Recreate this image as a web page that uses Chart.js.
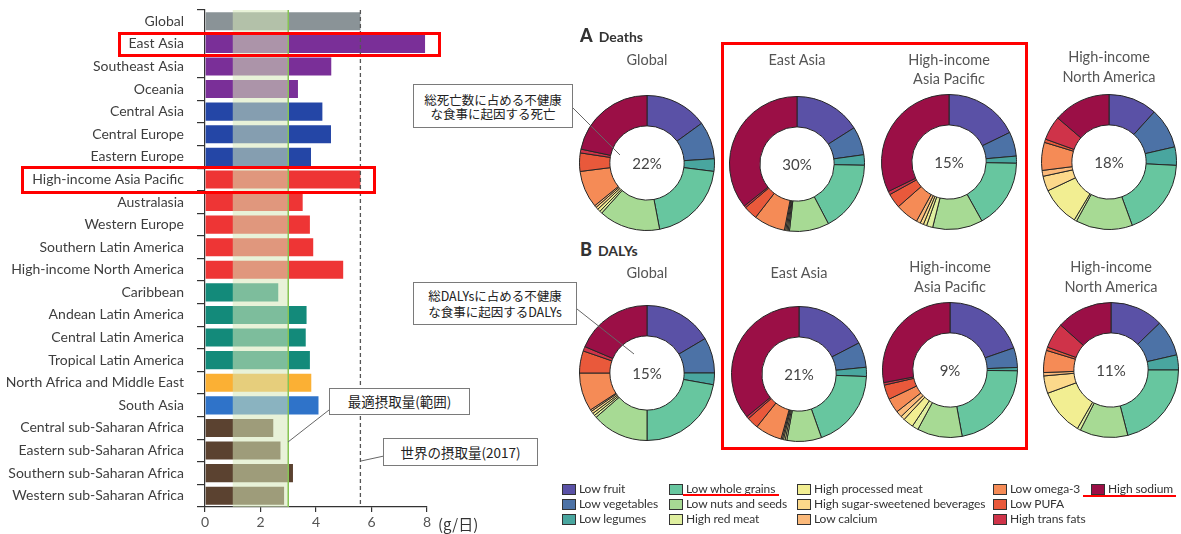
<!DOCTYPE html>
<html lang="ja">
<head>
<meta charset="utf-8">
<title>Sodium intake and diet-related deaths / DALYs</title>
<script src="https://cdn.jsdelivr.net/npm/chart.js@4.4.1/dist/chart.umd.min.js"></script>
<style>
  html, body { margin: 0; padding: 0; background: #fff; }
  #stage { position: relative; width: 1181px; height: 534px; overflow: hidden; background: #fff;
           font-family: "Lato", "Noto Sans", sans-serif; color: #444; }
  canvas { position: absolute; }
  .abs { position: absolute; white-space: nowrap; }
  .redbox { position: absolute; border: 3px solid #ff0000; box-sizing: border-box; }
  .callout { position: absolute; box-sizing: border-box; border: 1px solid #7a7a7a; background: #fff;
             font-family: "Noto Sans CJK JP", sans-serif; color: #222; text-align: center; }
  .ttl { position: absolute; transform: translateX(-50%); text-align: center; font-size: 14.5px;
         color: #555; line-height: 19px; white-space: nowrap; }
  .pct { position: absolute; transform: translate(-50%, -50%); font-size: 15px; color: #444; }
  .panel { position: absolute; font-weight: bold; color: #333; }
  .panel b { font-size: 18px; margin-right: 6px; }
  .panel span { font-size: 14px; }
  .lg { position: absolute; font-size: 12px; color: #333; line-height: 14px; letter-spacing: -0.1px; }
  .lg i { position: absolute; left: 0; top: 2px; width: 12px; height: 9px; border: 1px solid #333; }
  .lg span { position: absolute; left: 17px; top: 0; white-space: nowrap; }
  .uline { position: absolute; height: 2px; background: #ff0000; }
</style>
</head>
<body>
<div id="stage">
  <canvas id="sodiumBars" width="444" height="534" style="left:0;top:0"></canvas>
  <div class="abs" style="left:438px;top:513px;font-size:15px;color:#333;font-family:'Noto Sans CJK JP',sans-serif;">(g/日)</div>

  <div class="redbox" style="left:118px;top:32px;width:323px;height:25px"></div>
  <div class="redbox" style="left:21px;top:166px;width:355px;height:28px"></div>
  <div class="redbox" style="left:721px;top:42px;width:307px;height:408px"></div>

  <svg width="1181" height="534" style="position:absolute;left:0;top:0;pointer-events:none;z-index:3">
    <line x1="329" y1="410" x2="288" y2="442" stroke="#666" stroke-width="1"/>
    <line x1="384" y1="456" x2="361" y2="461" stroke="#666" stroke-width="1"/>
    <line x1="573" y1="108" x2="620" y2="155" stroke="#666" stroke-width="1"/>
    <line x1="577" y1="309" x2="634" y2="354" stroke="#666" stroke-width="1"/>
  </svg>

  <div class="callout" style="left:329px;top:388px;width:141px;height:27px;font-size:13.5px;line-height:25px;z-index:4">最適摂取量(範囲)</div>
  <div class="callout" style="left:383px;top:438px;width:155px;height:28px;font-size:13.5px;line-height:26px;z-index:4">世界の摂取量(2017)</div>
  <div class="callout" style="left:413px;top:84px;width:160px;height:44px;font-size:12.5px;line-height:14px;padding-top:8px;z-index:4">総死亡数に占める不健康<br>な食事に起因する死亡</div>
  <div class="callout" style="left:413px;top:282px;width:164px;height:43px;font-size:12.5px;line-height:16px;padding-top:5px;z-index:4">総DALYsに占める不健康<br>な食事に起因するDALYs</div>

  <div class="panel" style="left:580px;top:24px"><b>A</b><span>Deaths</span></div>
  <div class="panel" style="left:580px;top:238px"><b>B</b><span>DALYs</span></div>
</div>

<script>
// Sodium intake by GBD region (g/day), 2017
const regions = [
  'Global', 'East Asia', 'Southeast Asia', 'Oceania', 'Central Asia', 'Central Europe',
  'Eastern Europe', 'High-income Asia Pacific', 'Australasia', 'Western Europe',
  'Southern Latin America', 'High-income North America', 'Caribbean', 'Andean Latin America',
  'Central Latin America', 'Tropical Latin America', 'North Africa and Middle East', 'South Asia',
  'Central sub-Saharan Africa', 'Eastern sub-Saharan Africa', 'Southern sub-Saharan Africa',
  'Western sub-Saharan Africa'
];
const sodiumIntake = [5.6, 7.93, 4.55, 3.35, 4.23, 4.54, 3.82, 5.6, 3.52, 3.78, 3.9, 4.98,
                      2.64, 3.66, 3.63, 3.78, 3.83, 4.09, 2.46, 2.72, 3.17, 2.85];
const xTickValues = [0, 2, 4, 6, 8];
const optimalRange = [1, 3];        // optimal intake band (g/day)
const globalIntake2017 = 5.6;       // world mean intake, 2017

// Super-region colours for the bars
const regionColors = [
  '#8a9397', '#7a2f98', '#7a2f98', '#7a2f98', '#2446a6', '#2446a6', '#2446a6',
  '#ee3535', '#ee3535', '#ee3535', '#ee3535', '#ee3535', '#138a7a', '#138a7a',
  '#138a7a', '#138a7a', '#fbb034', '#2f73c9', '#5b4230', '#5b4230', '#5b4230', '#5b4230'
];

// Dietary risks, in clockwise order around each ring
const riskFactors = [
  'Low fruit', 'Low vegetables', 'Low legumes', 'Low whole grains', 'Low nuts and seeds',
  'High red meat', 'High processed meat', 'High sugar-sweetened beverages', 'Low calcium',
  'Low omega-3', 'Low PUFA', 'High trans fats', 'High sodium'
];
const riskColors = [
  '#5a51a6', '#4c72a6', '#49a69f', '#67c69f', '#a7da94', '#dfef9f', '#f2ee92',
  '#fcd98b', '#fbb97a', '#f58b56', '#e9593b', '#cf3349', '#9b0f46'
];

// Share of diet-attributable burden by risk (%), deaths
const deathsGlobal   = [15.0, 9.0, 3.0, 20.0, 14.7, 0.6, 0.7, 0.6, 0.5, 8.9, 4.4, 0.9, 21.7];
const deathsEastAsia = [16.0, 6.8, 2.5, 17.0, 9.5, 0.3, 0.3, 0.3, 0.3, 7.5, 3.3, 0.5, 35.7];
const deathsHIAP     = [17.8, 5.8, 1.7, 16.6, 12.0, 1.5, 0.8, 0.8, 1.0, 5.5, 3.5, 0.8, 32.2];
const deathsHINA     = [11.7, 9.7, 4.4, 18.6, 13.6, 0.6, 9.4, 3.6, 1.4, 6.7, 0.8, 5.8, 13.7];
// DALYs
const dalysGlobal    = [16.5, 8.5, 2.8, 22.2, 13.6, 0.6, 0.6, 0.6, 0.4, 9.2, 5.3, 1.1, 18.6];
const dalysEastAsia  = [17.4, 6.0, 2.2, 19.0, 8.3, 0.4, 0.4, 0.3, 0.3, 6.4, 2.8, 0.6, 35.9];
const dalysHIAP      = [19.7, 4.7, 0.8, 21.9, 10.8, 1.5, 2.5, 1.0, 1.5, 3.5, 3.5, 0.6, 28.0];
const dalysHINA      = [12.8, 8.6, 3.6, 21.0, 11.5, 0.8, 11.1, 4.2, 0.8, 5.3, 0.8, 6.1, 13.4];

// Share of all deaths / DALYs attributable to diet (%)
const deathsShare = [22, 30, 15, 18];
const dalysShare  = [15, 21, 9, 11];
const ringTitles  = [['Global'], ['East Asia'], ['High-income', 'Asia Pacific'], ['High-income', 'North America']];

const stage = document.getElementById('stage');

// ---------- horizontal bar chart of sodium intake ----------
const intakeGuides = {
  id: 'intakeGuides',
  afterDatasetsDraw(chart) {
    const { ctx, chartArea, scales } = chart;
    const x = scales.x;
    const xa = x.getPixelForValue(optimalRange[0]);
    const xb = x.getPixelForValue(optimalRange[1]);
    const xg = x.getPixelForValue(globalIntake2017);
    ctx.save();
    // optimal range band
    ctx.fillStyle = 'rgba(214, 232, 184, 0.55)';
    ctx.fillRect(xa, chartArea.top, xb - xa, chartArea.bottom - chartArea.top);
    // upper bound of the optimal range
    ctx.strokeStyle = '#86c453';
    ctx.lineWidth = 1.5;
    ctx.beginPath();
    ctx.moveTo(xb, chartArea.top);
    ctx.lineTo(xb, chartArea.bottom);
    ctx.stroke();
    // world intake, 2017
    ctx.strokeStyle = '#555';
    ctx.lineWidth = 1.3;
    ctx.setLineDash([4, 3]);
    ctx.beginPath();
    ctx.moveTo(xg, chartArea.top);
    ctx.lineTo(xg, chartArea.bottom);
    ctx.stroke();
    ctx.restore();
  }
};

new Chart(document.getElementById('sodiumBars'), {
  type: 'bar',
  data: {
    labels: regions,
    datasets: [{
      data: sodiumIntake,
      backgroundColor: regionColors,
      borderWidth: 0,
      barPercentage: 0.8,
      categoryPercentage: 1
    }]
  },
  options: {
    indexAxis: 'y',
    responsive: false,
    animation: false,
    layout: { padding: { top: 10, right: 17, bottom: 0, left: 0 } },
    plugins: { legend: { display: false }, tooltip: { enabled: false } },
    scales: {
      y: {
        afterFit(scale) {
          scale.width = 205;
          scale.paddingTop = 0;
          scale.paddingBottom = 0;
        },
        grid: { display: true, drawOnChartArea: false, drawTicks: true, tickLength: 8,
                offset: true, color: '#333', lineWidth: 1.2 },
        border: { display: true, color: '#333', width: 1.2 },
        ticks: { padding: 13, color: '#3e3e3e', font: { family: 'Lato', size: 14 } }
      },
      x: {
        min: 0, max: 8,
        afterFit(scale) { scale.height = 27; },
        afterBuildTicks(scale) { scale.ticks = xTickValues.map(v => ({ value: v })); },
        grid: { display: true, drawOnChartArea: false, drawTicks: true, tickLength: 5,
                color: '#333', lineWidth: 1.2 },
        border: { display: true, color: '#333', width: 1.2 },
        ticks: { padding: 2, color: '#555', font: { family: 'Lato', size: 14 } }
      }
    }
  },
  plugins: [intakeGuides]
});

// ---------- doughnut rings ----------
const ringCenters = {
  deaths: [[647, 163], [797, 164], [949, 162], [1109, 162]],
  dalys:  [[647, 373], [799, 374], [950, 370], [1111, 370]]
};
const titleMids = {
  deaths: [[60], [60], [60, 79], [57, 77]],
  dalys:  [[273], [273], [267, 287], [267, 287]]
};

function drawRing(values, center, share) {
  const size = 140;
  const cv = document.createElement('canvas');
  cv.width = size; cv.height = size;
  cv.style.left = (center[0] - size / 2) + 'px';
  cv.style.top = (center[1] - size / 2) + 'px';
  stage.appendChild(cv);
  new Chart(cv, {
    type: 'doughnut',
    data: {
      labels: riskFactors,
      datasets: [{ data: values, backgroundColor: riskColors, borderColor: '#262626', borderWidth: 1 }]
    },
    options: {
      responsive: false,
      animation: false,
      cutout: '55%',
      layout: { padding: 2 },
      plugins: { legend: { display: false }, tooltip: { enabled: false } }
    }
  });
  const p = document.createElement('div');
  p.className = 'pct';
  p.style.left = center[0] + 'px';
  p.style.top = center[1] + 'px';
  p.textContent = share + '%';
  stage.appendChild(p);
}

function addTitle(lines, cx, mids) {
  lines.forEach((t, i) => {
    const d = document.createElement('div');
    d.className = 'ttl';
    d.style.left = cx + 'px';
    d.style.top = (mids[i] - 10) + 'px';
    d.textContent = t;
    stage.appendChild(d);
  });
}

const deathSets = [deathsGlobal, deathsEastAsia, deathsHIAP, deathsHINA];
const dalySets = [dalysGlobal, dalysEastAsia, dalysHIAP, dalysHINA];
deathSets.forEach((v, i) => {
  drawRing(v, ringCenters.deaths[i], deathsShare[i]);
  addTitle(ringTitles[i], ringCenters.deaths[i][0], titleMids.deaths[i]);
});
dalySets.forEach((v, i) => {
  drawRing(v, ringCenters.dalys[i], dalysShare[i]);
  addTitle(ringTitles[i], ringCenters.dalys[i][0], titleMids.dalys[i]);
});

// ---------- legend ----------
const legendCols = [562, 669, 797, 993, 1091];
const legendRows = [482, 497, 512];
riskFactors.forEach((name, i) => {
  const col = Math.floor(i / 3), row = i % 3;
  const d = document.createElement('div');
  d.className = 'lg';
  d.style.left = legendCols[col] + 'px';
  d.style.top = legendRows[row] + 'px';
  d.innerHTML = '<i style="background:' + riskColors[i] + '"></i><span>' + name + '</span>';
  stage.appendChild(d);
});
[[683, 494, 96], [1083, 495, 93]].forEach(([l, t, w]) => {
  const u = document.createElement('div');
  u.className = 'uline';
  u.style.left = l + 'px'; u.style.top = t + 'px'; u.style.width = w + 'px';
  stage.appendChild(u);
});
</script>
</body>
</html>
